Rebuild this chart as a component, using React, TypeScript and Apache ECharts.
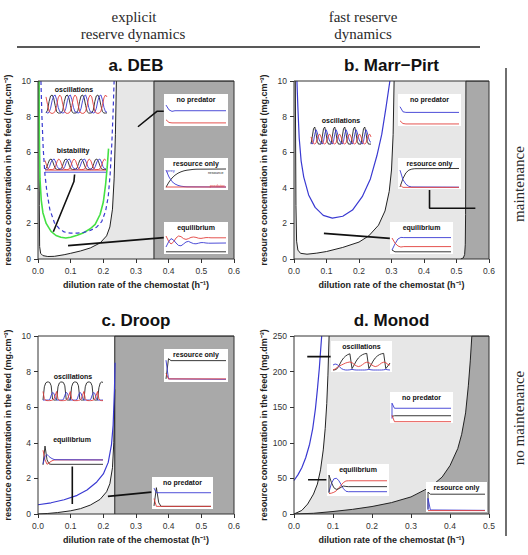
import { useEffect, useRef } from "react";
import * as echarts from "echarts";

const SANS = "'Liberation Sans', Arial, Helvetica, sans-serif";
const SERIF = "'Liberation Serif', 'Times New Roman', serif";
const BLUE = "#3a3ad2";
const RED = "#e2403c";
const GREEN = "#44e044";
const INK = "#222222";
const LIGHT = "#e7e7e7";
const DARK = "#a9a9a9";

// ---------- panel a: DEB (x in h^-1, y in mg.cm^-3) ----------
const A_BOUNDARY = [[0.003, 10], [0.004, 3], [0.005, 0.7], [0.008, 0.32], [0.015, 0.19], [0.03, 0.14], [0.05, 0.15], [0.08, 0.24], [0.1, 0.32], [0.13, 0.45], [0.16, 0.62], [0.19, 0.9], [0.21, 1.3], [0.22, 1.8], [0.228, 2.8], [0.233, 4.5], [0.237, 7], [0.24, 10]];
const A_GREEN = [[0.003, 10], [0.004, 7], [0.006, 4.5], [0.01, 3.3], [0.015, 2.6], [0.025, 2.0], [0.04, 1.55], [0.055, 1.32], [0.07, 1.22], [0.085, 1.18], [0.1, 1.22], [0.12, 1.33], [0.14, 1.48], [0.16, 1.7], [0.175, 1.95], [0.19, 2.5], [0.2, 3.2], [0.207, 4.2], [0.212, 5.2], [0.216, 6.2]];
const A_DASHED = [[0.009, 10], [0.012, 8], [0.016, 6.2], [0.021, 4.8], [0.027, 3.8], [0.036, 2.8], [0.05, 2.05], [0.065, 1.7], [0.08, 1.52], [0.1, 1.45], [0.12, 1.45], [0.14, 1.5], [0.16, 1.6], [0.18, 1.8], [0.195, 2.1], [0.207, 2.7], [0.215, 3.5], [0.221, 4.8], [0.226, 6.5], [0.23, 8.3], [0.233, 10]];
const A_EDGE = [[0.355, 0], [0.355, 10], [0.6, 10]];
const A_POINTERS = [
  [[0.112, 4.75], [0.11, 4.35], [0.047, 1.53]],
  [[0.306, 7.43], [0.364, 8.3], [0.385, 8.3]],
  [[0.092, 0.75], [0.385, 1.2]],
];

// ---------- panel b: Marr-Pirt ----------
const B_BOUNDARY = [[0.004, 10], [0.006, 3], [0.008, 1], [0.012, 0.5], [0.02, 0.32], [0.04, 0.27], [0.07, 0.33], [0.1, 0.42], [0.15, 0.65], [0.2, 0.95], [0.23, 1.3], [0.26, 1.9], [0.28, 2.7], [0.293, 3.8], [0.3, 5], [0.305, 7], [0.308, 10]];
const B_BLUE = [[0.009, 10], [0.012, 8.5], [0.016, 6.8], [0.022, 5.5], [0.03, 4.6], [0.045, 3.6], [0.065, 2.9], [0.09, 2.45], [0.118, 2.3], [0.15, 2.4], [0.18, 2.75], [0.21, 3.5], [0.235, 4.5], [0.255, 5.8], [0.27, 7], [0.283, 8.5], [0.295, 10]];
const B_EDGE = [[0.513, 0], [0.521, 0.06], [0.525, 0.25], [0.527, 0.8], [0.528, 2.5], [0.529, 10], [0.6, 10]];
const B_POINTERS = [
  [[0.417, 3.88], [0.417, 2.85], [0.558, 2.85]],
  [[0.092, 1.44], [0.295, 1.16]],
];

// ---------- panel c: Droop ----------
const C_BOUNDARY = [[0, 0], [0.03, 0.03], [0.06, 0.08], [0.1, 0.18], [0.13, 0.3], [0.16, 0.5], [0.19, 0.82], [0.21, 1.25], [0.22, 1.7], [0.228, 2.6], [0.232, 4], [0.235, 7]];
const C_BLUE = [[0, 0.52], [0.04, 0.63], [0.08, 0.8], [0.12, 1.05], [0.15, 1.35], [0.18, 1.8], [0.2, 2.25], [0.215, 2.9], [0.225, 3.9], [0.23, 5], [0.234, 7], [0.236, 8.5]];
const C_EDGE = [[0.235, 0], [0.235, 10], [0.6, 10]];
const C_POINTERS = [
  [[0.105, 2.67], [0.105, 0.56]],
  [[0.214, 0.99], [0.347, 1.23]],
];

// ---------- panel d: Monod (y in mg.dm^-3) ----------
const D_LOWER = [[0, 0], [0.02, 5], [0.035, 14], [0.05, 28], [0.06, 42], [0.068, 62], [0.075, 90], [0.08, 120], [0.084, 155], [0.087, 195], [0.09, 250]];
const D_UPPER = [[0, 0], [0.05, 1], [0.1, 3.5], [0.15, 6.5], [0.2, 10.5], [0.25, 16], [0.3, 24], [0.35, 38], [0.38, 52], [0.4, 68], [0.42, 92], [0.43, 112], [0.44, 142], [0.447, 180], [0.452, 215], [0.456, 250], [0.5, 250]];
const D_BLUE = [[0, 47], [0.01, 55], [0.02, 65], [0.03, 79], [0.04, 98], [0.048, 120], [0.055, 148], [0.06, 175], [0.065, 205], [0.068, 228], [0.071, 250]];
const D_POINTERS = [
  [[0.034, 221], [0.094, 221]],
  [[0.036, 48], [0.083, 48]],
];

// ---------- small time-course insets (resource black, prey blue, predator red) ----------
const A_OSC_BLACK = [0.05, 0.2, 0.65, 0.95, 1, 0.85, 0.45, 0.12, 0.05, 0.05, 0.06, 0.2, 0.65, 0.95, 1, 0.85, 0.45, 0.12, 0.05, 0.05, 0.06, 0.2, 0.65, 0.95, 1, 0.85, 0.45, 0.12, 0.05, 0.05, 0.06, 0.2, 0.65, 0.95, 1, 0.85, 0.45, 0.12, 0.05, 0.05, 0.06];
const A_OSC_BLUE = [0.1, 0.05, 0.08, 0.3, 0.7, 0.95, 1, 0.75, 0.35, 0.12, 0.1, 0.05, 0.08, 0.3, 0.7, 0.95, 1, 0.75, 0.35, 0.12, 0.1, 0.05, 0.08, 0.3, 0.7, 0.95, 1, 0.75, 0.35, 0.12, 0.1, 0.05, 0.08, 0.3, 0.7, 0.95, 1, 0.75, 0.35, 0.12, 0.1];
const A_OSC_RED = [0.9, 0.5, 0.15, 0.05, 0.03, 0.05, 0.15, 0.45, 0.85, 1, 0.9, 0.5, 0.15, 0.05, 0.03, 0.05, 0.15, 0.45, 0.85, 1, 0.9, 0.5, 0.15, 0.05, 0.03, 0.05, 0.15, 0.45, 0.85, 1, 0.9, 0.5, 0.15, 0.05, 0.03, 0.05, 0.15, 0.45, 0.85, 1, 0.9];

const A_BIST_BLACK = [0.3, 0.4, 0.7, 0.95, 1, 0.85, 0.55, 0.35, 0.3, 0.3, 0.3, 0.4, 0.7, 0.95, 1, 0.85, 0.55, 0.35, 0.3, 0.3, 0.3, 0.4, 0.7, 0.95, 1, 0.85, 0.55, 0.35, 0.3, 0.3, 0.3, 0.4, 0.7, 0.95, 1, 0.85, 0.55, 0.35, 0.3, 0.3, 0.3];
const A_BIST_BLUE = [0.35, 0.3, 0.32, 0.5, 0.8, 0.95, 1, 0.8, 0.5, 0.35, 0.35, 0.3, 0.32, 0.5, 0.8, 0.95, 1, 0.8, 0.5, 0.35, 0.35, 0.3, 0.32, 0.5, 0.8, 0.95, 1, 0.8, 0.5, 0.35, 0.35, 0.3, 0.32, 0.5, 0.8, 0.95, 1, 0.8, 0.5, 0.35, 0.35];
const A_BIST_RED = [0.9, 0.6, 0.35, 0.3, 0.3, 0.3, 0.35, 0.55, 0.85, 1, 0.9, 0.6, 0.35, 0.3, 0.3, 0.3, 0.35, 0.55, 0.85, 1, 0.9, 0.6, 0.35, 0.3, 0.3, 0.3, 0.35, 0.55, 0.85, 1, 0.9, 0.6, 0.35, 0.3, 0.3, 0.3, 0.35, 0.55, 0.85, 1, 0.9];
const A_BIST_RED_EQ = [[0, 0.26], [40, 0.26]];
const A_BIST_BLUE_EQ = [[0, 0.12], [40, 0.12]];

const A_NOPRED_BLUE = [[0, 0.95], [1, 0.72], [2, 0.65], [3, 0.68], [20, 0.68]];
const A_NOPRED_RED = [[0, 0.25], [1, 0.12], [2, 0.1], [20, 0.1]];

const A_RES_BLACK = [0.04, 0.3, 0.5, 0.64, 0.74, 0.81, 0.86, 0.89, 0.91, 0.93, 0.94, [20, 0.95]];
const A_RES_BLUE = [0.9, 0.55, 0.32, 0.2, 0.13, 0.09, 0.07, 0.06, [20, 0.05]];
const A_RES_RED = [[0, 0.05], [20, 0.05]];

const A_EQ_RED = [0.85, 0.6, 0.45, 0.55, 0.75, 0.85, 0.82, 0.72, 0.68, 0.72, 0.78, 0.8, 0.78, 0.74, 0.73, 0.75, 0.77, 0.77, 0.76, [24, 0.76]];
const A_EQ_BLUE = [0.3, 0.55, 0.72, 0.65, 0.5, 0.38, 0.36, 0.45, 0.55, 0.58, 0.52, 0.47, 0.46, 0.49, 0.52, 0.52, 0.5, 0.49, 0.49, [24, 0.5]];
const A_EQ_BLACK = [[0, 0.06], [24, 0.06]];

const B_NOPRED_BLUE = [[0, 0.87], [1, 0.63], [2, 0.6], [20, 0.6]];
const B_NOPRED_RED = [[0, 0.2], [1, 0.07], [2, 0.05], [20, 0.05]];

const B_OSC_BLACK = [0.05, 0.45, 0.9, 1, 0.65, 0.2, 0.05, 0.05, 0.05, 0.45, 0.9, 1, 0.65, 0.2, 0.05, 0.05, 0.05, 0.45, 0.9, 1, 0.65, 0.2, 0.05, 0.05, 0.05, 0.45, 0.9, 1, 0.65, 0.2, 0.05, 0.05, 0.05, 0.45, 0.9, 1, 0.65, 0.2, 0.05, 0.05, 0.05, 0.45, 0.9, 1, 0.65, 0.2, 0.05, 0.05, 0.05];
const B_OSC_BLUE = [0.15, 0.05, 0.2, 0.6, 0.85, 0.7, 0.4, 0.2, 0.15, 0.05, 0.2, 0.6, 0.85, 0.7, 0.4, 0.2, 0.15, 0.05, 0.2, 0.6, 0.85, 0.7, 0.4, 0.2, 0.15, 0.05, 0.2, 0.6, 0.85, 0.7, 0.4, 0.2, 0.15, 0.05, 0.2, 0.6, 0.85, 0.7, 0.4, 0.2, 0.15, 0.05, 0.2, 0.6, 0.85, 0.7, 0.4, 0.2, 0.15];
const B_OSC_RED = [0.45, 0.25, 0.08, 0.05, 0.12, 0.35, 0.55, 0.6, 0.45, 0.25, 0.08, 0.05, 0.12, 0.35, 0.55, 0.6, 0.45, 0.25, 0.08, 0.05, 0.12, 0.35, 0.55, 0.6, 0.45, 0.25, 0.08, 0.05, 0.12, 0.35, 0.55, 0.6, 0.45, 0.25, 0.08, 0.05, 0.12, 0.35, 0.55, 0.6, 0.45, 0.25, 0.08, 0.05, 0.12, 0.35, 0.55, 0.6, 0.45];

const B_RES_BLACK = [0.05, 0.45, 0.72, 0.85, 0.9, 0.92, [20, 0.93]];
const B_RES_BLUE = [0.85, 0.4, 0.18, 0.08, 0.05, [20, 0.04]];
const B_RES_RED = [0.15, 0.03, [20, 0.03]];

const B_EQ_BLUE = [0.15, 0.45, 0.7, 0.78, 0.77, [20, 0.77]];
const B_EQ_RED = [0.75, 0.5, 0.35, 0.3, 0.32, [20, 0.32]];
const B_EQ_BLACK = [0.15, 0.06, [20, 0.06]];

const C_RES_BLACK = [0.05, 0.97, 0.88, [24, 0.88]];
const C_RES_BLUE = [0.9, 0.05, [24, 0.03]];
const C_RES_RED = [0.3, 0.05, [24, 0.05]];

const C_OSC_BLACK = [0.05, 0.75, 0.95, 1, 1, 0.97, 0.8, 0.1, 0.05, 0.05, 0.05, 0.75, 0.95, 1, 1, 0.97, 0.8, 0.1, 0.05, 0.05, 0.05, 0.75, 0.95, 1, 1, 0.97, 0.8, 0.1, 0.05, 0.05, 0.05, 0.75, 0.95, 1, 1, 0.97, 0.8, 0.1, 0.05, 0.05, 0.05, 0.7, 0.95, 1, 0.98];
const C_OSC_BLUE = [0.05, 0.05, 0.05, 0.05, 0.05, 0.08, 0.3, 0.45, 0.4, 0.15, 0.05, 0.05, 0.05, 0.05, 0.05, 0.08, 0.3, 0.45, 0.4, 0.15, 0.05, 0.05, 0.05, 0.05, 0.05, 0.08, 0.3, 0.45, 0.4, 0.15, 0.05, 0.05, 0.05, 0.05, 0.05, 0.08, 0.3, 0.45, 0.4, 0.15, 0.05, 0.05, 0.05, 0.05, 0.05];
const C_OSC_RED = [0.5, 0.12, 0.03, 0.02, 0.02, 0.02, 0.03, 0.05, 0.1, 0.3, 0.5, 0.12, 0.03, 0.02, 0.02, 0.02, 0.03, 0.05, 0.1, 0.3, 0.5, 0.12, 0.03, 0.02, 0.02, 0.02, 0.03, 0.05, 0.1, 0.3, 0.5, 0.12, 0.03, 0.02, 0.02, 0.02, 0.03, 0.05, 0.1, 0.3, 0.5, 0.12, 0.03, 0.02, 0.02];

const C_EQ_RED = [0.75, 0.3, 0.08, 0.15, 0.22, 0.27, 0.29, [30, 0.29]];
const C_EQ_BLUE = [0.1, 0.45, 0.55, 0.45, 0.38, 0.33, 0.3, [30, 0.29]];
const C_EQ_BLACK = [0.05, 0.95, 0.3, 0.1, 0.08, [30, 0.08]];

const C_NOPRED_BLUE = [0.9, 0.68, [24, 0.68]];
const C_NOPRED_RED = [0.4, 0.03, [24, 0.03]];
const C_NOPRED_BLACK = [0.05, 0.92, 0.2, 0.03, [24, 0.03]];

const D_OSC_BLACK = [0.05, 0.06, 0.12, 0.3, 0.5, 0.65, 0.75, 0.82, 0.86, 0.12, 0.3, 0.5, 0.65, 0.75, 0.82, 0.86, 0.88, 0.12, 0.3, 0.5, 0.65, 0.75, 0.82, 0.86, 0.88, 0.12, 0.25, 0.4];
const D_OSC_RED = [0.05, 0.1, 0.18, 0.25, 0.3, 0.35, 0.4, 0.43, 0.45, 0.42, 0.33, 0.26, 0.22, 0.25, 0.32, 0.4, 0.44, 0.42, 0.33, 0.26, 0.22, 0.25, 0.32, 0.4, 0.44, 0.42, 0.33, 0.3];
const D_OSC_BLUE = [0.3, 0.35, 0.32, 0.22, 0.12, 0.07, 0.05, 0.05, 0.06, 0.08, 0.06, 0.05, 0.05, 0.05, 0.05, 0.05, 0.06, 0.08, 0.06, 0.05, 0.05, 0.05, 0.05, 0.05, 0.06, 0.08, 0.06, 0.05];

const D_NOPRED_BLUE = [[0, 0.2], [0, 0.9], [1, 0.67], [24, 0.67]];
const D_NOPRED_BLACK = [[0, 0.3], [1, 0.33], [24, 0.33]];
const D_NOPRED_RED = [[0, 0.35], [1, 0.06], [24, 0.06]];

const D_EQ_BLUE = [0.1, 0.5, 0.72, 0.75, 0.65, 0.45, 0.25, 0.13, 0.11, [24, 0.11]];
const D_EQ_RED = [0.02, 0.04, 0.08, 0.15, 0.28, 0.42, 0.55, 0.62, 0.63, [24, 0.63]];
const D_EQ_BLACK = [[0, 0.05], [0, 0.9], [1, 0.55], [2, 0.3], [3, 0.22], [4, 0.25], [5, 0.32], [6, 0.38], [7, 0.36], [8, 0.35], [24, 0.35]];

const D_RES_BLACK = [[0, 0.1], [0, 0.9], [1, 0.8], [24, 0.8]];
const D_RES_BLUE = [[0, 0.05], [0, 0.6], [1, 0.05], [24, 0.03]];
const D_RES_RED = [[0, 0.02], [24, 0.02]];

const X_TICKS_06 = { max: 0.6 };
const X_TICKS_05 = { max: 0.5 };

const X_NAME = "dilution rate of the chemostat (h\u207B\u00B9)";
const Y_NAME_CM = "resource concentration in the feed (mg.cm\u207B\u00B3)";
const Y_NAME_DM = "resource concentration in the feed (mg.dm\u207B\u00B3)";

type Trace = { c: string; d: any[] };
type Inset = {
  title: string;
  tx: number;
  ty: number;
  tMax: number;
  box?: [number, number, number, number];
  plot: [number, number, number, number];
  traces: Trace[];
  notes?: { text: string; x: number; y: number; c: string }[];
};

const toPairs = (d: any[]) => d.map((v, i) => (Array.isArray(v) ? v : [i, v]));

const INSETS: Inset[] = [
  // panel a
  { title: "oscillations", tx: 74, ty: 89, tMax: 40, plot: [46, 95, 61, 19], traces: [{ c: INK, d: A_OSC_BLACK }, { c: BLUE, d: A_OSC_BLUE }, { c: RED, d: A_OSC_RED }] },
  { title: "bistability", tx: 73, ty: 150, tMax: 40, plot: [45, 159, 61, 15], traces: [{ c: INK, d: A_BIST_BLACK }, { c: BLUE, d: A_BIST_BLUE }, { c: RED, d: A_BIST_RED }, { c: RED, d: A_BIST_RED_EQ }, { c: BLUE, d: A_BIST_BLUE_EQ }] },
  { title: "no predator", tx: 196, ty: 99.5, tMax: 20, box: [164, 94, 64, 32], plot: [166, 104, 60, 21], traces: [{ c: BLUE, d: A_NOPRED_BLUE }, { c: RED, d: A_NOPRED_RED }] },
  {
    title: "resource only", tx: 196, ty: 163.5, tMax: 20, box: [164, 158, 64, 32], plot: [166, 168, 60, 20],
    traces: [{ c: INK, d: A_RES_BLACK }, { c: BLUE, d: A_RES_BLUE }, { c: RED, d: A_RES_RED }],
    notes: [{ text: "prey", x: 167, y: 170, c: BLUE }, { text: "resource", x: 208, y: 172.5, c: INK }, { text: "predator", x: 210, y: 185, c: RED }],
  },
  { title: "equilibrium", tx: 196, ty: 227, tMax: 24, box: [164, 222, 64, 32], plot: [166, 233, 60, 20], traces: [{ c: RED, d: A_EQ_RED }, { c: BLUE, d: A_EQ_BLUE }, { c: INK, d: A_EQ_BLACK }] },
  // panel b
  { title: "no predator", tx: 429.5, ty: 99.5, tMax: 20, box: [398, 94, 63, 32], plot: [400, 104, 59, 21], traces: [{ c: BLUE, d: B_NOPRED_BLUE }, { c: RED, d: B_NOPRED_RED }] },
  { title: "oscillations", tx: 341, ty: 120, tMax: 48, plot: [311, 127, 60, 18], traces: [{ c: INK, d: B_OSC_BLACK }, { c: BLUE, d: B_OSC_BLUE }, { c: RED, d: B_OSC_RED }] },
  { title: "resource only", tx: 429.5, ty: 163.5, tMax: 20, box: [398, 158, 63, 31], plot: [400, 167, 59, 21], traces: [{ c: INK, d: B_RES_BLACK }, { c: BLUE, d: B_RES_BLUE }, { c: RED, d: B_RES_RED }] },
  { title: "equilibrium", tx: 421.5, ty: 227, tMax: 20, box: [390, 222, 63, 32], plot: [392, 233, 59, 20], traces: [{ c: BLUE, d: B_EQ_BLUE }, { c: RED, d: B_EQ_RED }, { c: INK, d: B_EQ_BLACK }] },
  // panel c
  { title: "resource only", tx: 196, ty: 354.5, tMax: 24, box: [164, 349, 64, 33], plot: [166, 358, 60, 22], traces: [{ c: INK, d: C_RES_BLACK }, { c: BLUE, d: C_RES_BLUE }, { c: RED, d: C_RES_RED }] },
  { title: "oscillations", tx: 73, ty: 376, tMax: 44, plot: [43, 382, 60, 19], traces: [{ c: INK, d: C_OSC_BLACK }, { c: BLUE, d: C_OSC_BLUE }, { c: RED, d: C_OSC_RED }] },
  { title: "equilibrium", tx: 72, ty: 439, tMax: 30, plot: [43, 445, 60, 21], traces: [{ c: INK, d: C_EQ_BLACK }, { c: RED, d: C_EQ_RED }, { c: BLUE, d: C_EQ_BLUE }] },
  { title: "no predator", tx: 182.5, ty: 482, tMax: 24, box: [152, 477, 61, 32], plot: [154, 486, 57, 21], traces: [{ c: INK, d: C_NOPRED_BLACK }, { c: BLUE, d: C_NOPRED_BLUE }, { c: RED, d: C_NOPRED_RED }] },
  // panel d
  { title: "oscillations", tx: 361.5, ty: 346, tMax: 27, box: [331, 341, 61, 31], plot: [333, 351, 57, 20], traces: [{ c: INK, d: D_OSC_BLACK }, { c: RED, d: D_OSC_RED }, { c: BLUE, d: D_OSC_BLUE }] },
  { title: "no predator", tx: 421.5, ty: 397, tMax: 24, box: [390, 392, 63, 31], plot: [392, 401, 59, 22], traces: [{ c: BLUE, d: D_NOPRED_BLUE }, { c: INK, d: D_NOPRED_BLACK }, { c: RED, d: D_NOPRED_RED }] },
  { title: "equilibrium", tx: 358, ty: 469.5, tMax: 24, box: [327, 464, 62, 32], plot: [329, 473, 58, 21], traces: [{ c: BLUE, d: D_EQ_BLUE }, { c: RED, d: D_EQ_RED }, { c: INK, d: D_EQ_BLACK }] },
  { title: "resource only", tx: 456.5, ty: 487, tMax: 24, box: [426, 482, 61, 30], plot: [428, 490, 57, 21], traces: [{ c: INK, d: D_RES_BLACK }, { c: BLUE, d: D_RES_BLUE }, { c: RED, d: D_RES_RED }] },
];

const PANELS = [
  { title: "a. DEB", left: 38, top: 81, width: 196, height: 178, x: X_TICKS_06, yMax: 10, yStep: 2, yName: Y_NAME_CM, bg: LIGHT },
  { title: "b. Marr\u2212Pirt", left: 294, top: 81, width: 195, height: 178, x: X_TICKS_06, yMax: 10, yStep: 2, yName: Y_NAME_CM, bg: LIGHT },
  { title: "c. Droop", left: 38, top: 336, width: 196, height: 178, x: X_TICKS_06, yMax: 10, yStep: 2, yName: Y_NAME_CM, bg: "#ffffff" },
  { title: "d. Monod", left: 294, top: 336, width: 195, height: 178, x: X_TICKS_05, yMax: 250, yStep: 50, yName: Y_NAME_DM, bg: LIGHT },
];

function lineSeries(gi: number, data: any[], style: any, extra: any = {}) {
  return {
    type: "line",
    xAxisIndex: gi,
    yAxisIndex: gi,
    data,
    showSymbol: false,
    symbol: "none",
    silent: true,
    lineStyle: style,
    z: 2,
    ...extra,
  };
}

function buildOption() {
  const grid: any[] = [];
  const xAxis: any[] = [];
  const yAxis: any[] = [];
  const series: any[] = [];
  const graphic: any[] = [];

  const nameStyle = { fontFamily: SANS, fontSize: 9, fontWeight: "bold", color: INK };
  const labelStyle = { fontFamily: SANS, fontSize: 8.5, color: "#333" };

  PANELS.forEach((p, gi) => {
    grid.push({ left: p.left, top: p.top, width: p.width, height: p.height, show: true, backgroundColor: p.bg, borderWidth: 0 });
    xAxis.push({
      type: "value", gridIndex: gi, min: 0, max: p.x.max, interval: 0.1, z: 10,
      axisLine: { show: false },
      axisTick: { show: true, length: 4, lineStyle: { color: "#333" } },
      axisLabel: { ...labelStyle, margin: 7, formatter: (v: number) => v.toFixed(1) },
      splitLine: { show: false },
      name: X_NAME, nameLocation: "middle", nameGap: 21, nameTextStyle: nameStyle,
    });
    yAxis.push({
      type: "value", gridIndex: gi, min: 0, max: p.yMax, interval: p.yStep, z: 10,
      axisLine: { show: false },
      axisTick: { show: true, length: 4, lineStyle: { color: "#333" } },
      axisLabel: { ...labelStyle, margin: 7 },
      splitLine: { show: false },
      name: p.yName, nameLocation: "middle", nameGap: 26, nameRotate: 90, nameTextStyle: nameStyle,
    });
    graphic.push({
      type: "rect", z: 9, silent: true,
      shape: { x: p.left, y: p.top, width: p.width, height: p.height },
      style: { fill: "transparent", stroke: "#333", lineWidth: 1 },
    });
    graphic.push({
      type: "text", z: 9, silent: true, x: p.left + p.width / 2, y: p.top - 16,
      style: { text: p.title, fontFamily: SANS, fontSize: 17, fontWeight: "bold", fill: "#111", textAlign: "center", textVerticalAlign: "middle", align: "center", verticalAlign: "middle" },
    });
  });

  const boundary = { color: INK, width: 1 };
  const pointer = { color: "#111", width: 1.6 };

  // a
  series.push(lineSeries(0, A_BOUNDARY, boundary, { areaStyle: { color: "#fff", opacity: 1, origin: "end" }, z: 1 }));
  series.push(lineSeries(0, A_EDGE, boundary, { areaStyle: { color: DARK, opacity: 1, origin: "start" }, z: 1 }));
  series.push(lineSeries(0, A_GREEN, { color: GREEN, width: 1.6 }));
  series.push(lineSeries(0, A_DASHED, { color: BLUE, width: 1.2, type: [4, 3] }));
  A_POINTERS.forEach((d) => series.push(lineSeries(0, d, pointer, { z: 3 })));
  // b
  series.push(lineSeries(1, B_BOUNDARY, boundary, { areaStyle: { color: "#fff", opacity: 1, origin: "end" }, z: 1 }));
  series.push(lineSeries(1, B_EDGE, boundary, { areaStyle: { color: DARK, opacity: 1, origin: "start" }, z: 1 }));
  series.push(lineSeries(1, B_BLUE, { color: BLUE, width: 1.2 }));
  B_POINTERS.forEach((d) => series.push(lineSeries(1, d, pointer, { z: 3 })));
  // c
  series.push(lineSeries(2, C_BOUNDARY, boundary, { areaStyle: { color: LIGHT, opacity: 1, origin: "start" }, z: 1 }));
  series.push(lineSeries(2, C_EDGE, boundary, { areaStyle: { color: DARK, opacity: 1, origin: "start" }, z: 1 }));
  series.push(lineSeries(2, C_BLUE, { color: BLUE, width: 1.2 }));
  C_POINTERS.forEach((d) => series.push(lineSeries(2, d, pointer, { z: 3 })));
  // d
  series.push(lineSeries(3, D_LOWER, boundary, { areaStyle: { color: "#fff", opacity: 1, origin: "end" }, z: 1 }));
  series.push(lineSeries(3, D_UPPER, boundary, { areaStyle: { color: DARK, opacity: 1, origin: "start" }, z: 1 }));
  series.push(lineSeries(3, D_BLUE, { color: BLUE, width: 1.2 }));
  D_POINTERS.forEach((d) => series.push(lineSeries(3, d, pointer, { z: 3 })));

  // insets
  INSETS.forEach((ins, k) => {
    const gi = PANELS.length + k;
    const [l, t, w, h] = ins.plot;
    grid.push({ left: l, top: t, width: w, height: h, show: false });
    xAxis.push({ type: "value", gridIndex: gi, min: 0, max: ins.tMax, show: false });
    yAxis.push({ type: "value", gridIndex: gi, min: 0, max: 1, show: false });
    ins.traces.forEach((tr) =>
      series.push(lineSeries(gi, toPairs(tr.d), { color: tr.c, width: 0.9 }, { z: 6, clip: false }))
    );
    if (ins.box) {
      const [bx, by, bw, bh] = ins.box;
      graphic.push({ type: "rect", z: 5, silent: true, shape: { x: bx, y: by, width: bw, height: bh }, style: { fill: "#ffffff" } });
    }
    graphic.push({
      type: "text", z: 8, silent: true, x: ins.tx, y: ins.ty,
      style: { text: ins.title, fontFamily: SANS, fontSize: 7, fontWeight: "bold", fill: "#111", textAlign: "center", textVerticalAlign: "middle", align: "center", verticalAlign: "middle" },
    });
    (ins.notes || []).forEach((n) =>
      graphic.push({
        type: "text", z: 8, silent: true, x: n.x, y: n.y,
        style: { text: n.text, fontFamily: SANS, fontSize: 4, fill: n.c, textAlign: "left", textVerticalAlign: "middle", align: "left", verticalAlign: "middle" },
      })
    );
  });

  // column headings and row labels
  const serifText = (text: string, x: number, y: number, rotation = 0) => ({
    type: "text", z: 9, silent: true, x, y, rotation,
    style: { text, fontFamily: SERIF, fontSize: 15, fill: "#2a2a2a", textAlign: "center", textVerticalAlign: "middle", align: "center", verticalAlign: "middle" },
  });
  graphic.push(serifText("explicit", 134, 17));
  graphic.push(serifText("reserve dynamics", 133, 34));
  graphic.push(serifText("fast reserve", 363, 17));
  graphic.push(serifText("dynamics", 363, 34));
  graphic.push(serifText("maintenance", 519, 184, Math.PI / 2));
  graphic.push(serifText("no maintenance", 519, 418, Math.PI / 2));
  graphic.push({ type: "line", z: 9, silent: true, shape: { x1: 17, y1: 47, x2: 480, y2: 47 }, style: { stroke: "#222", lineWidth: 1.3 } });
  graphic.push({ type: "line", z: 9, silent: true, shape: { x1: 506, y1: 68, x2: 506, y2: 536 }, style: { stroke: "#222", lineWidth: 1.3 } });

  return { animation: false, backgroundColor: "#ffffff", grid, xAxis, yAxis, series, graphic };
}

export default function App() {
  const ref = useRef<HTMLDivElement>(null);
  useEffect(() => {
    if (!ref.current) return;
    const chart = echarts.init(ref.current, null, { renderer: "svg" });
    chart.setOption(buildOption() as any);
    return () => chart.dispose();
  }, []);
  return (
    <div
      ref={ref}
      style={{ position: "fixed", left: 0, top: 0, width: 528, height: 555, background: "#ffffff" }}
    />
  );
}
